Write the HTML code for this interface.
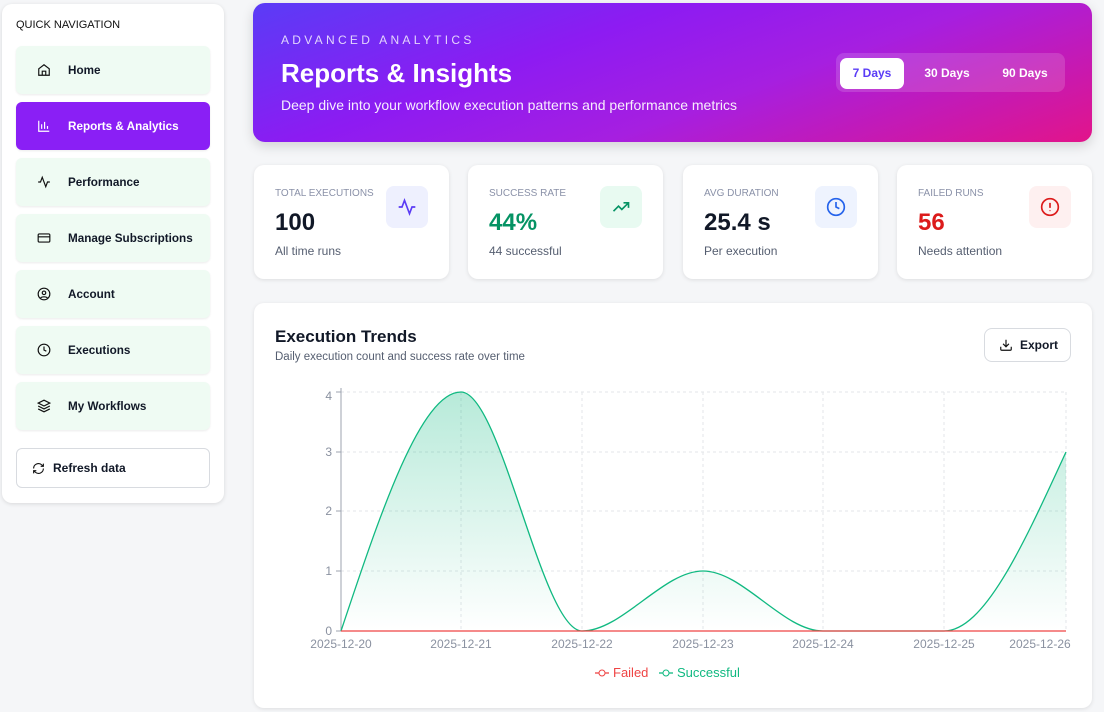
<!DOCTYPE html>
<html><head><meta charset="utf-8"><style>
*{box-sizing:border-box;margin:0;padding:0}
body{width:1104px;height:712px;background:#f5f6f8;font-family:"Liberation Sans",sans-serif;position:relative;overflow:hidden;color:#111827}
.side{position:absolute;left:2px;top:4px;width:222px;height:499px;background:#fff;border-radius:10px;box-shadow:0 1px 4px rgba(0,0,0,.12)}
.side h6{position:absolute;left:14px;top:15px;font-size:11px;font-weight:normal;color:#111}
.nav{position:absolute;left:14px;width:194px;height:48px;background:#effbf3;border-radius:6px;box-shadow:0 1px 2px rgba(0,0,0,.08);font-size:11.7px;font-weight:bold;display:flex;align-items:center;padding-left:52px}
.nav svg{position:absolute;left:21px;top:17px}
.nav.act{background:#8a1ff5;color:#fff}
.ref{position:absolute;left:14px;top:444px;width:194px;height:40px;border:1px solid #d8dbe0;border-radius:6px;font-size:12px;font-weight:bold;display:flex;align-items:center;padding-left:36px}
.ref svg{position:absolute;left:15px;top:13px}
.hero{position:absolute;left:253px;top:3px;width:839px;height:139px;border-radius:12px;background:linear-gradient(160deg,#5a3cf6 0%,#8d1bf2 35%,#a61fe0 60%,#e2148a 100%);color:#fff;box-shadow:0 4px 12px rgba(0,0,0,.15)}
.hero .k{position:absolute;left:28px;top:30px;font-size:12px;letter-spacing:3.3px;opacity:.8}
.hero h1{position:absolute;left:28px;top:55px;font-size:26px}
.hero p{position:absolute;left:28px;top:94px;font-size:14px;opacity:.92}
.tabs{position:absolute;left:583px;top:50px;width:229px;height:39px;border-radius:8px;background:rgba(255,255,255,.15)}
.tabs span{position:absolute;top:5px;height:31px;line-height:31px;font-size:12px;font-weight:bold;text-align:center}
.card{position:absolute;top:165px;width:195px;height:114px;background:#fff;border-radius:10px;box-shadow:0 1px 4px rgba(0,0,0,.1)}
.card .t{position:absolute;left:21px;top:23px;font-size:10px;color:#8a91a8}
.card .v{position:absolute;left:21px;top:44px;font-size:24px;font-weight:bold}
.card .s{position:absolute;left:21px;top:79px;font-size:12px;color:#555e70}
.card .i{position:absolute;left:132px;top:21px;width:42px;height:42px;border-radius:8px;display:flex;align-items:center;justify-content:center}
.chart{position:absolute;left:254px;top:303px;width:838px;height:405px;background:#fff;border-radius:10px;box-shadow:0 1px 4px rgba(0,0,0,.1)}
.chart h2{position:absolute;left:21px;top:24px;font-size:17px}
.chart .sub{position:absolute;left:21px;top:48px;font-size:11.5px;color:#555e70}
.exp{position:absolute;left:730px;top:25px;width:87px;height:34px;border:1px solid #d8dbe0;border-radius:8px;font-size:12px;font-weight:bold;padding-left:35px;line-height:32px}
.exp svg{position:absolute;left:14px;top:9px}
</style></head><body>
<div class="side">
<h6>QUICK NAVIGATION</h6>
<div class="nav" style="top:42px"><svg width="14" height="14" viewBox="0 0 24 24" fill="none" stroke="#111" stroke-width="2"><path d="M3 10l9-7 9 7v11H3z"/><path d="M9 21v-7h6v7"/></svg>Home</div>
<div class="nav act" style="top:98px"><svg width="14" height="14" viewBox="0 0 24 24" fill="none" stroke="#fff" stroke-width="2"><path d="M3 3v18h18M8 17V9M13 17V5M18 17v-5"/></svg>Reports &amp; Analytics</div>
<div class="nav" style="top:154px"><svg width="14" height="14" viewBox="0 0 24 24" fill="none" stroke="#111" stroke-width="2"><path d="M2 12h4l3-8 6 16 3-8h4"/></svg>Performance</div>
<div class="nav" style="top:210px"><svg width="14" height="14" viewBox="0 0 24 24" fill="none" stroke="#111" stroke-width="2"><rect x="2" y="5" width="20" height="14" rx="2"/><path d="M2 10h20"/></svg>Manage Subscriptions</div>
<div class="nav" style="top:266px"><svg width="14" height="14" viewBox="0 0 24 24" fill="none" stroke="#111" stroke-width="2"><circle cx="12" cy="12" r="10"/><circle cx="12" cy="10" r="3"/><path d="M6 19c2-3 10-3 12 0"/></svg>Account</div>
<div class="nav" style="top:322px"><svg width="14" height="14" viewBox="0 0 24 24" fill="none" stroke="#111" stroke-width="2"><circle cx="12" cy="12" r="10"/><path d="M12 6v6l4 2"/></svg>Executions</div>
<div class="nav" style="top:378px"><svg width="14" height="14" viewBox="0 0 24 24" fill="none" stroke="#111" stroke-width="2"><path d="M12 2l10 5-10 5L2 7z"/><path d="M2 12l10 5 10-5M2 17l10 5 10-5"/></svg>My Workflows</div>
<div class="ref"><svg width="13" height="13" viewBox="0 0 24 24" fill="none" stroke="#111" stroke-width="2"><path d="M21 12a9 9 0 0 1-15 6.7L3 16M3 12a9 9 0 0 1 15-6.7L21 8M21 3v5h-5M3 21v-5h5"/></svg>Refresh data</div>
</div>
<div class="hero">
<div class="k">ADVANCED ANALYTICS</div>
<h1>Reports &amp; Insights</h1>
<p>Deep dive into your workflow execution patterns and performance metrics</p>
<div class="tabs">
<span style="left:4px;width:64px;background:#fff;border-radius:7px;color:#5a3cf6">7 Days</span>
<span style="left:76px;width:70px">30 Days</span>
<span style="left:154px;width:70px">90 Days</span>
</div>
</div>
<div class="card" style="left:254px"><div class="t">TOTAL EXECUTIONS</div><div class="v">100</div><div class="s">All time runs</div><div class="i" style="background:#eef0fe"><svg width="20" height="20" viewBox="0 0 24 24" fill="none" stroke="#5b3cf5" stroke-width="2"><path d="M2 12h4l3-8 6 16 3-8h4"/></svg></div></div>
<div class="card" style="left:468px"><div class="t">SUCCESS RATE</div><div class="v" style="color:#059364">44%</div><div class="s">44 successful</div><div class="i" style="background:#e8faf1"><svg width="20" height="20" viewBox="0 0 24 24" fill="none" stroke="#059364" stroke-width="2"><path d="M3 17l6-6 4 4 8-8M15 7h6v6"/></svg></div></div>
<div class="card" style="left:683px"><div class="t">AVG DURATION</div><div class="v">25.4 s</div><div class="s">Per execution</div><div class="i" style="background:#eef3fe"><svg width="20" height="20" viewBox="0 0 24 24" fill="none" stroke="#2563eb" stroke-width="2"><circle cx="12" cy="12" r="10"/><path d="M12 6v6l4 2"/></svg></div></div>
<div class="card" style="left:897px"><div class="t">FAILED RUNS</div><div class="v" style="color:#dc1b1b">56</div><div class="s">Needs attention</div><div class="i" style="background:#fef0f0"><svg width="20" height="20" viewBox="0 0 24 24" fill="none" stroke="#dc1b1b" stroke-width="2"><circle cx="12" cy="12" r="10"/><path d="M12 7v6M12 16v1"/></svg></div></div>
<div class="chart"><h2>Execution Trends</h2><div class="sub">Daily execution count and success rate over time</div>
<div class="exp"><svg width="14" height="14" viewBox="0 0 24 24" fill="none" stroke="#111" stroke-width="2"><path d="M21 15v4a2 2 0 0 1-2 2H5a2 2 0 0 1-2-2v-4M7 10l5 5 5-5M12 15V3"/></svg>Export</div></div>
<svg style="position:absolute;left:0;top:0" width="1104" height="712">
<defs><linearGradient id="g" x1="0" y1="0" x2="0" y2="1"><stop offset="0" stop-color="#10b981" stop-opacity=".3"/><stop offset="1" stop-color="#10b981" stop-opacity="0"/></linearGradient></defs>
<g stroke="#e3e5e9" stroke-dasharray="3 3">
<line x1="341" y1="392" x2="1066" y2="392"/><line x1="341" y1="452" x2="1066" y2="452"/><line x1="341" y1="511" x2="1066" y2="511"/><line x1="341" y1="571" x2="1066" y2="571"/>
<line x1="461" y1="392" x2="461" y2="631"/><line x1="582" y1="392" x2="582" y2="631"/><line x1="703" y1="392" x2="703" y2="631"/><line x1="823" y1="392" x2="823" y2="631"/><line x1="944" y1="392" x2="944" y2="631"/><line x1="1066" y1="392" x2="1066" y2="631"/>
</g>
<line x1="341" y1="388" x2="341" y2="631" stroke="#9ca3af"/>
<line x1="341" y1="631" x2="1066" y2="631" stroke="#9ca3af"/>
<g stroke="#9ca3af"><line x1="336" y1="392" x2="341" y2="392"/><line x1="336" y1="452" x2="341" y2="452"/><line x1="336" y1="511" x2="341" y2="511"/><line x1="336" y1="571" x2="341" y2="571"/><line x1="336" y1="631" x2="341" y2="631"/></g>
<path d="M341 631C381 511 421 392 461 392C501 392 542 631 582 631C622 631 663 571 703 571C743 571 783 631 823 631L944 631C985 631 1025 541 1066 452L1066 631Z" fill="url(#g)"/>
<path d="M341 631C381 511 421 392 461 392C501 392 542 631 582 631C622 631 663 571 703 571C743 571 783 631 823 631L944 631C985 631 1025 541 1066 452" fill="none" stroke="#10b981" stroke-width="1.3"/>
<line x1="341" y1="631" x2="1066" y2="631" stroke="#ef4444" stroke-width="1.3"/>
<g font-size="12" fill="#8a91a0" font-family="Liberation Sans,sans-serif">
<g text-anchor="end"><text x="332" y="400">4</text><text x="332" y="456">3</text><text x="332" y="515">2</text><text x="332" y="575">1</text><text x="332" y="635">0</text></g>
<g text-anchor="middle"><text x="341" y="648">2025-12-20</text><text x="461" y="648">2025-12-21</text><text x="582" y="648">2025-12-22</text><text x="703" y="648">2025-12-23</text><text x="823" y="648">2025-12-24</text><text x="944" y="648">2025-12-25</text><text x="1040" y="648">2025-12-26</text></g>
</g>
<g font-size="13" font-family="Liberation Sans,sans-serif">
<line x1="595" y1="673" x2="609" y2="673" stroke="#ef4444" stroke-width="1.3"/><circle cx="602" cy="673" r="3" fill="#fff" stroke="#ef4444"/><text x="613" y="677" fill="#ef4444">Failed</text>
<line x1="659" y1="673" x2="673" y2="673" stroke="#10b981" stroke-width="1.3"/><circle cx="666" cy="673" r="3" fill="#fff" stroke="#10b981"/><text x="677" y="677" fill="#10b981">Successful</text>
</g>
</svg>
</body></html>
